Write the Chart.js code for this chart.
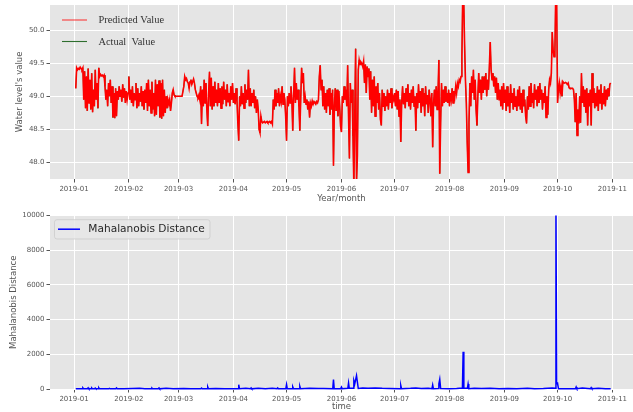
<!DOCTYPE html>
<html>
<head>
<meta charset="utf-8">
<script src="https://cdn.jsdelivr.net/npm/chart.js@4/dist/chart.umd.min.js"></script>
<style>
  html, body { margin: 0; padding: 0; background: #ffffff; }
  #wrap { position: relative; width: 633px; height: 412px; overflow: hidden; }
  canvas { position: absolute; left: 0; }
  #levelChart { top: 0; width: 633px; height: 205px; }
  #mdChart { top: 205px; width: 633px; height: 207px; }
</style>
</head>
<body>
<div id="wrap">
  <canvas id="levelChart" width="633" height="205"></canvas>
  <canvas id="mdChart" width="633" height="207"></canvas>
</div>
<script>
// ---- Time axis: days counted from 2019-01-01 ----
const monthTickDays = [0, 31, 59, 90, 120, 151, 181, 212, 243, 273, 304];
const monthLabels = ['2019-01', '2019-02', '2019-03', '2019-04', '2019-05', '2019-06',
                     '2019-07', '2019-08', '2019-09', '2019-10', '2019-11'];

// ---- Water level series (half-day samples, first sample on 2019-01-02) ----
const levelStartDay = 1;
const levelStepDays = 0.5;
const predictedLevel = [
  49.12,49.43,49.40,49.42,49.41,49.44,49.42,49.40,49.43,48.95,49.38,48.82,49.30,48.78,49.42,48.90,49.25,48.80,49.35,48.76,
  49.10,48.85,49.40,48.95,49.20,48.82,49.43,49.30,49.33,49.31,49.32,49.30,49.32,49.15,48.95,49.10,48.85,49.20,49.00,49.25,
  48.90,49.15,48.68,49.05,48.67,49.12,48.70,49.08,48.95,49.15,49.00,49.10,48.92,49.18,48.98,49.12,48.90,49.08,48.95,49.05,
  49.30,48.95,49.10,48.90,49.15,48.85,49.05,48.95,49.20,48.82,49.12,48.85,49.05,48.92,49.15,48.85,49.08,48.80,49.10,48.90,
  49.20,48.78,49.25,48.85,49.10,48.75,49.22,48.80,49.05,48.70,49.25,48.72,49.18,48.85,49.24,48.68,49.20,48.66,49.25,48.70,
  49.10,48.75,49.00,48.82,48.95,48.88,48.95,48.78,48.90,49.05,49.10,49.02,49.00,49.00,49.00,49.00,49.00,49.00,49.00,49.00,
  49.00,49.00,49.15,49.30,49.25,49.27,49.22,49.20,49.12,49.22,49.25,49.18,49.22,49.26,49.20,49.10,49.05,49.00,48.98,49.02,
  48.95,49.15,48.58,49.10,48.85,49.25,48.90,49.20,48.80,48.55,49.05,49.37,48.85,49.28,48.80,49.15,48.85,49.22,48.90,49.10,
  48.85,49.20,48.90,49.12,48.82,49.15,48.88,49.22,48.95,49.10,48.85,49.18,48.92,49.05,48.85,49.15,48.95,49.20,48.90,49.05,
  48.88,49.12,48.95,48.60,48.33,49.00,48.85,49.15,48.88,49.05,48.82,49.18,48.90,49.10,48.95,49.40,48.85,49.12,48.85,49.05,
  48.90,49.10,48.82,49.00,48.75,48.95,48.80,48.50,48.45,48.70,48.62,48.60,48.61,48.62,48.60,48.61,48.62,48.60,48.61,48.62,
  48.60,48.62,48.58,48.95,48.80,49.10,48.85,49.05,48.90,49.12,48.85,49.00,48.92,49.15,48.88,49.05,48.95,48.70,48.33,49.00,
  48.85,49.05,48.90,49.15,48.95,48.48,49.00,49.43,48.90,49.20,48.95,49.10,48.85,48.48,48.95,49.43,49.20,49.35,48.90,49.00,
  48.88,48.95,48.80,48.92,48.68,48.90,48.85,48.93,48.88,48.92,48.90,48.88,48.92,48.90,48.95,49.30,49.47,49.10,49.25,48.85,
  49.15,48.80,49.05,48.75,49.10,48.85,49.12,48.72,49.05,48.80,49.10,47.95,48.85,49.12,48.78,49.10,48.70,49.08,48.85,48.55,
  48.46,49.00,48.90,49.15,48.95,49.10,48.85,49.47,48.70,48.06,49.20,48.90,49.10,48.40,47.65,48.70,49.72,47.70,48.10,49.40,
  49.55,49.48,49.52,49.50,49.45,49.53,49.20,49.48,49.05,49.45,49.30,49.42,48.95,49.38,48.75,49.25,48.85,49.30,48.70,49.15,
  48.90,49.20,48.80,49.05,48.65,48.56,49.10,48.85,49.05,48.78,49.00,48.85,49.10,48.80,49.05,48.90,49.12,48.82,49.00,48.95,
  49.05,48.85,49.10,48.80,49.08,48.70,48.95,48.31,48.90,49.15,48.88,49.05,48.82,49.12,48.92,49.18,48.85,49.05,48.80,49.10,
  48.90,49.15,48.85,49.00,48.48,49.05,48.82,49.18,48.90,49.08,48.75,49.12,48.85,49.05,48.70,49.15,48.88,49.02,48.75,49.10,
  48.95,48.70,49.05,48.23,48.90,49.10,48.85,49.15,48.80,49.05,49.55,47.83,48.60,49.20,48.85,49.10,48.90,49.15,48.92,49.05,
  48.90,49.10,48.85,49.05,48.95,49.12,48.90,49.08,49.00,49.15,49.05,49.20,49.15,49.25,49.22,49.30,49.60,50.60,50.50,49.80,
  49.25,48.90,48.30,47.85,48.60,49.20,48.85,49.30,49.05,49.40,48.95,49.25,48.80,48.56,49.00,49.35,49.05,49.25,48.95,49.30,
  49.05,49.30,49.10,49.35,49.00,49.25,49.10,49.45,49.82,49.40,49.25,49.35,49.15,49.30,49.05,49.28,48.95,49.20,48.95,49.10,
  48.85,49.15,48.80,49.20,48.90,49.10,48.78,49.15,48.85,49.05,48.75,49.18,48.90,49.05,48.80,49.12,48.85,49.00,48.78,49.10,
  48.85,49.15,48.80,49.05,48.75,49.10,48.85,48.95,48.70,48.59,49.00,48.80,49.15,48.85,49.20,48.90,49.05,48.82,49.18,48.95,
  49.10,48.85,49.15,48.90,49.20,48.95,49.10,48.80,49.05,48.90,49.15,48.68,49.00,48.72,49.10,49.25,49.20,49.35,49.97,49.70,
  49.60,49.65,50.60,50.50,48.90,49.10,49.20,49.05,49.15,49.00,49.22,49.20,49.20,49.21,49.20,49.18,49.20,49.13,49.12,49.12,
  49.12,49.12,49.10,48.95,48.61,49.05,48.41,48.80,48.59,49.00,48.60,49.35,48.90,49.15,48.85,49.10,48.75,49.12,48.56,49.05,
  48.85,49.10,48.56,49.35,48.90,49.12,48.82,49.05,48.85,49.15,48.78,49.10,48.90,49.18,48.80,49.05,48.88,49.15,48.85,49.10,
  48.95,49.12,49.00,49.18,49.20
];
// The measured level follows the prediction almost everywhere
const actualLevel = predictedLevel.slice();
const levelSeriesNames = ['Predicted Value', 'Actual  Value'];
const levelTicks = [48.0, 48.5, 49.0, 49.5, 50.0];

// ---- Mahalanobis distance (day, value) ----
const mdDays = [
  1, 3, 4.6, 5, 5.4, 7.6, 8, 8.4, 9.6, 10, 10.4,
  11.6, 12, 12.4, 13.6, 14, 14.4, 17, 19.6, 20, 20.4,
  23.6, 24, 24.4, 28, 33, 37, 40, 43.6, 44, 44.4,
  47.6, 48, 48.4, 52, 56, 62, 66, 71.6, 72, 72.4,
  75.1, 75.5, 75.9, 80, 85, 90, 92.6, 93, 93.4, 97,
  99.6, 100, 100.4, 104, 108, 112, 114.6, 115, 115.4, 119.6,
  120, 120.4, 123.1, 123.5, 123.9, 127.1, 127.5, 127.9, 133, 138,
  141, 146.1, 146.5, 146.9, 150.6, 151, 151.4, 154.6, 155, 155.4,
  157.6, 158, 158.5, 159.5, 160, 160.5, 163, 166, 170, 174,
  178, 184.1, 184.5, 184.9, 190, 193, 196, 200, 202.1, 202.5,
  202.9, 205.6, 206, 206.5, 207, 212, 216, 219.3, 219.7, 220.1,
  222.1, 222.5, 222.9, 226, 230, 235, 240, 245, 250, 256,
  260, 265, 270, 271.7, 272.1, 272.5, 273, 273.5, 278, 283.1,
  283.5, 283.9, 287, 291.6, 292, 292.4, 296, 300, 303
];
const mdValues = [
  10, 20, 15, 60, 10, 15, 70, 10, 15, 60, 15,
  10, 50, 10, 15, 70, 10, 20, 10, 40, 10,
  10, 60, 10, 15, 30, 40, 20, 10, 50, 10,
  10, 60, 10, 40, 15, 30, 20, 10, 50, 10,
  10, 120, 10, 30, 20, 15, 20, 250, 20, 40,
  10, 60, 10, 50, 15, 40, 10, 60, 10, 20,
  260, 20, 15, 120, 20, 15, 150, 15, 40, 30,
  25, 20, 540, 20, 20, 110, 20, 40, 350, 40,
  40, 480, 300, 770, 400, 30, 60, 40, 60, 40,
  30, 20, 200, 20, 40, 60, 30, 50, 20, 230,
  20, 30, 300, 560, 30, 20, 30, 60, 2140, 40,
  40, 290, 20, 50, 30, 40, 20, 30, 20, 50,
  20, 30, 60, 40, 10500, 300, 330, 20, 20, 15,
  115, 20, 60, 15, 80, 20, 40, 20, 10
];
const mdSeriesName = 'Mahalanobis Distance';
const mdTicks = [0, 2000, 4000, 6000, 8000, 10000];

// ---- Shared styling ----
const X_MIN = -13.55, X_MAX = 315.6;
const TICK_FONT = { family: 'DejaVu Sans', size: 7 };
const TITLE_FONT = { family: 'DejaVu Sans', size: 8.5 };
const TEXT_GREY = '#555555';

const levelPoints = predictedLevel.map((v, i) => ({ x: levelStartDay + i * levelStepDays, y: v }));
const actualPoints = actualLevel.map((v, i) => ({ x: levelStartDay + i * levelStepDays, y: v }));
const mdPoints = mdDays.map((d, i) => ({ x: d, y: mdValues[i] }));

const panelBackground = {
  id: 'panelBackground',
  beforeDraw(chart) {
    const { ctx, chartArea: a } = chart;
    ctx.save();
    ctx.fillStyle = '#E5E5E5';
    ctx.fillRect(a.left, a.top, a.right - a.left, a.bottom - a.top);
    ctx.restore();
  }
};

function monthAxis(title, axisHeight, titlePadBottom) {
  return {
    type: 'linear',
    min: X_MIN,
    max: X_MAX,
    afterBuildTicks(s) { s.ticks = monthTickDays.map(v => ({ value: v })); },
    afterFit(s) { s.height = axisHeight; s.paddingLeft = 0; s.paddingRight = 0; },
    ticks: {
      autoSkip: false, maxRotation: 0, minRotation: 0,
      font: TICK_FONT, color: TEXT_GREY, padding: 2,
      callback: (v) => monthLabels[monthTickDays.indexOf(v)]
    },
    grid: { color: '#ffffff', lineWidth: 1, drawTicks: true, tickLength: 3.5, tickColor: TEXT_GREY, tickWidth: 1 },
    border: { display: false },
    title: { display: true, text: title, font: TITLE_FONT, color: TEXT_GREY, padding: { top: 0, bottom: titlePadBottom } }
  };
}

function valueAxis(min, max, tickList, fmt, title, titlePadTop) {
  return {
    type: 'linear',
    min: min,
    max: max,
    afterBuildTicks(s) { s.ticks = tickList.map(v => ({ value: v })); },
    afterFit(s) { s.width = 50; s.paddingTop = 0; s.paddingBottom = 0; },
    ticks: { font: TICK_FONT, color: TEXT_GREY, padding: 2, callback: fmt },
    grid: { color: '#ffffff', lineWidth: 1, drawTicks: true, tickLength: 3.5, tickColor: TEXT_GREY, tickWidth: 1 },
    border: { display: false },
    title: { display: true, text: title, font: TITLE_FONT, color: TEXT_GREY, padding: { top: titlePadTop, bottom: 0 } }
  };
}

// ---- Upper panel legend (no frame) ----
const levelLegend = {
  id: 'levelLegend',
  afterDraw(chart) {
    const ctx = chart.ctx;
    const rows = [
      { y: 20, color: 'rgba(255,0,0,0.75)', text: levelSeriesNames[0] },
      { y: 41.5, color: '#2e6e2e', text: levelSeriesNames[1] }
    ];
    ctx.save();
    ctx.font = '10.4px "Liberation Serif"';
    ctx.textBaseline = 'middle';
    ctx.textAlign = 'left';
    rows.forEach(r => {
      ctx.strokeStyle = r.color;
      ctx.lineWidth = 1.1;
      ctx.beginPath();
      ctx.moveTo(62, r.y);
      ctx.lineTo(87, r.y);
      ctx.stroke();
      ctx.fillStyle = '#333333';
      ctx.fillText(r.text, 98.5, r.y + 0.5);
    });
    ctx.restore();
  }
};

// ---- Lower panel legend (framed box) ----
const mdLegend = {
  id: 'mdLegend',
  afterDraw(chart) {
    const ctx = chart.ctx;
    const x0 = 54.5, y0 = 14.7, w = 155.5, h = 19.3, r = 2.5;
    ctx.save();
    ctx.beginPath();
    ctx.moveTo(x0 + r, y0);
    ctx.lineTo(x0 + w - r, y0);
    ctx.quadraticCurveTo(x0 + w, y0, x0 + w, y0 + r);
    ctx.lineTo(x0 + w, y0 + h - r);
    ctx.quadraticCurveTo(x0 + w, y0 + h, x0 + w - r, y0 + h);
    ctx.lineTo(x0 + r, y0 + h);
    ctx.quadraticCurveTo(x0, y0 + h, x0, y0 + h - r);
    ctx.lineTo(x0, y0 + r);
    ctx.quadraticCurveTo(x0, y0, x0 + r, y0);
    ctx.closePath();
    ctx.fillStyle = 'rgba(232,232,232,0.85)';
    ctx.fill();
    ctx.strokeStyle = 'rgba(204,204,204,0.8)';
    ctx.lineWidth = 1;
    ctx.stroke();
    ctx.strokeStyle = '#0000ff';
    ctx.lineWidth = 1.5;
    ctx.beginPath();
    ctx.moveTo(58, 24.2);
    ctx.lineTo(80, 24.2);
    ctx.stroke();
    ctx.fillStyle = '#262626';
    ctx.font = '10.6px "DejaVu Sans"';
    ctx.textBaseline = 'middle';
    ctx.textAlign = 'left';
    ctx.fillText(mdSeriesName, 88.3, 24.4);
    ctx.restore();
  }
};

const common = {
  responsive: false,
  animation: false,
  devicePixelRatio: 1,
  events: [],
  plugins: { legend: { display: false }, tooltip: { enabled: false } },
  elements: { point: { radius: 0 }, line: { tension: 0 } }
};

new Chart(document.getElementById('levelChart'), {
  type: 'line',
  data: {
    datasets: [
      { label: levelSeriesNames[0], data: levelPoints, borderColor: '#ff0000', borderWidth: 1.6, pointRadius: 0, clip: 0 },
      { label: levelSeriesNames[1], data: actualPoints, borderColor: '#2e6e2e', borderWidth: 0.8, pointRadius: 0, clip: 0 }
    ]
  },
  options: Object.assign({}, common, {
    layout: { padding: { top: 5, left: 0, right: 0, bottom: 0 } },
    scales: {
      x: monthAxis('Year/month', 26, 1),
      y: valueAxis(47.75, 50.38, levelTicks, v => v.toFixed(1), "Water level's value", 15)
    }
  }),
  plugins: [panelBackground, levelLegend]
});

new Chart(document.getElementById('mdChart'), {
  type: 'line',
  data: {
    datasets: [
      { label: mdSeriesName, data: mdPoints, borderColor: '#0000ff', borderWidth: 1.5, pointRadius: 0,
        clip: { left: 0, top: 0, right: 0, bottom: 2 } }
    ]
  },
  options: Object.assign({}, common, {
    layout: { padding: { top: 10.5, left: 0, right: 0, bottom: 0 } },
    scales: {
      x: monthAxis('time', 23, 0),
      y: valueAxis(0, 10000, mdTicks, v => String(v), 'Mahalanobis Distance', 8.5)
    }
  }),
  plugins: [panelBackground, mdLegend]
});
</script>
</body>
</html>
